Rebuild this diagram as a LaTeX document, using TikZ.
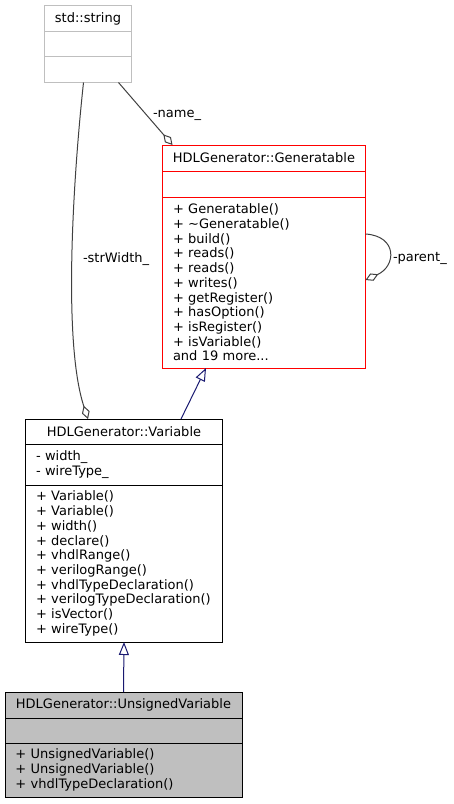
\documentclass[tikz,border=0pt]{standalone}
\usepackage{fontspec}
\setmainfont{DejaVu Sans}
\usetikzlibrary{arrows.meta,calc}
\definecolor{edgegray}{HTML}{404040}
\definecolor{navy}{HTML}{191970}
\definecolor{boxgray}{HTML}{BFBFBF}
\hyphenpenalty=10000
\begin{document}
\begin{tikzpicture}[x=1pt,y=-1pt,line width=1pt,
    every node/.style={font=\fontsize{13}{14.7}\selectfont,inner sep=0pt,outer sep=0pt},
    cell/.style={draw,anchor=north west,minimum width=#1},
    list/.style={draw,anchor=north west,align=left,inner xsep=10.5pt},
    agg/.style={draw=edgegray,-{Diamond[open,length=14pt,width=8pt]}},
    inh/.style={draw=navy,-{Triangle[open,length=13pt,width=10pt]}}]
  \useasboundingbox (0,0) rectangle (453,804);
  % std::string
  \node[cell=87,draw=boxgray,minimum height=26] (strT) at (44.5,5.5) {std::string};
  \node[cell=87,draw=boxgray,minimum height=25] (strA) at (strT.south west) {};
  \node[cell=87,draw=boxgray,minimum height=26] (strB) at (strA.south west) {};
  % Generatable
  \node[cell=203,draw=red,minimum height=26] (genT) at (162.5,145) {HDLGenerator::Generatable};
  \node[cell=203,draw=red,minimum height=26] (genA) at (genT.south west) {};
  \node[list,draw=red,text width=182pt,minimum height=171] (genM) at (genA.south west)
    {+ Generatable()\\+ \textasciitilde Generatable()\\+ build()\\+ reads()\\+ reads()\\+ writes()\\
     + getRegister()\\+ hasOption()\\+ isRegister()\\+ isVariable()\\and 19 more...};
  % Variable
  \node[cell=197,minimum height=25] (varT) at (25.5,419) {HDLGenerator::Variable};
  \node[list,text width=176pt,minimum height=41] (varA) at (varT.south west)
    {- width\_\\- wireType\_};
  \node[list,text width=176pt,minimum height=157] (varM) at (varA.south west)
    {+ Variable()\\+ Variable()\\+ width()\\+ declare()\\+ vhdlRange()\\+ verilogRange()\\
     + vhdlTypeDeclaration()\\+ verilogTypeDeclaration()\\+ isVector()\\+ wireType()};
  % UnsignedVariable
  \node[cell=237,fill=boxgray,minimum height=26] (unsT) at (5,692) {HDLGenerator::UnsignedVariable};
  \node[cell=237,fill=boxgray,minimum height=25] (unsA) at (unsT.south west) {};
  \node[list,fill=boxgray,text width=216pt,minimum height=54] (unsM) at (unsA.south west)
    {+ UnsignedVariable()\\+ UnsignedVariable()\\+ vhdlTypeDeclaration()};
  % members
  \draw[agg] ($(strB.south)+(-4.5,0)$) .. controls (74,170) and (62,340) .. ($(varT.north west)+(62.5,0)$);
  \draw[agg] ($(strB.south)+(30.5,0)$) -- ($(genT.north west)+(10,0)$);
  \draw[agg] ($(genM.north east)+(0,37)$) .. controls +(32,2) and +(31,-14) .. ($(genM.north east)+(0,83)$);
  \node[anchor=base west] (lstr) at (83,262) {-strWidth\_};
  \node[anchor=base west] (lname) at (153,117) {-name\_};
  \node[anchor=base west] (lpar) at (393,261) {-parent\_};
  % inheritance
  \draw[inh] ($(varT.north west)+(155.5,0)$) -- ($(genM.south west)+(43.5,0)$);
  \draw[inh] (unsT.north) -- (varM.south);
\end{tikzpicture}
\end{document}
